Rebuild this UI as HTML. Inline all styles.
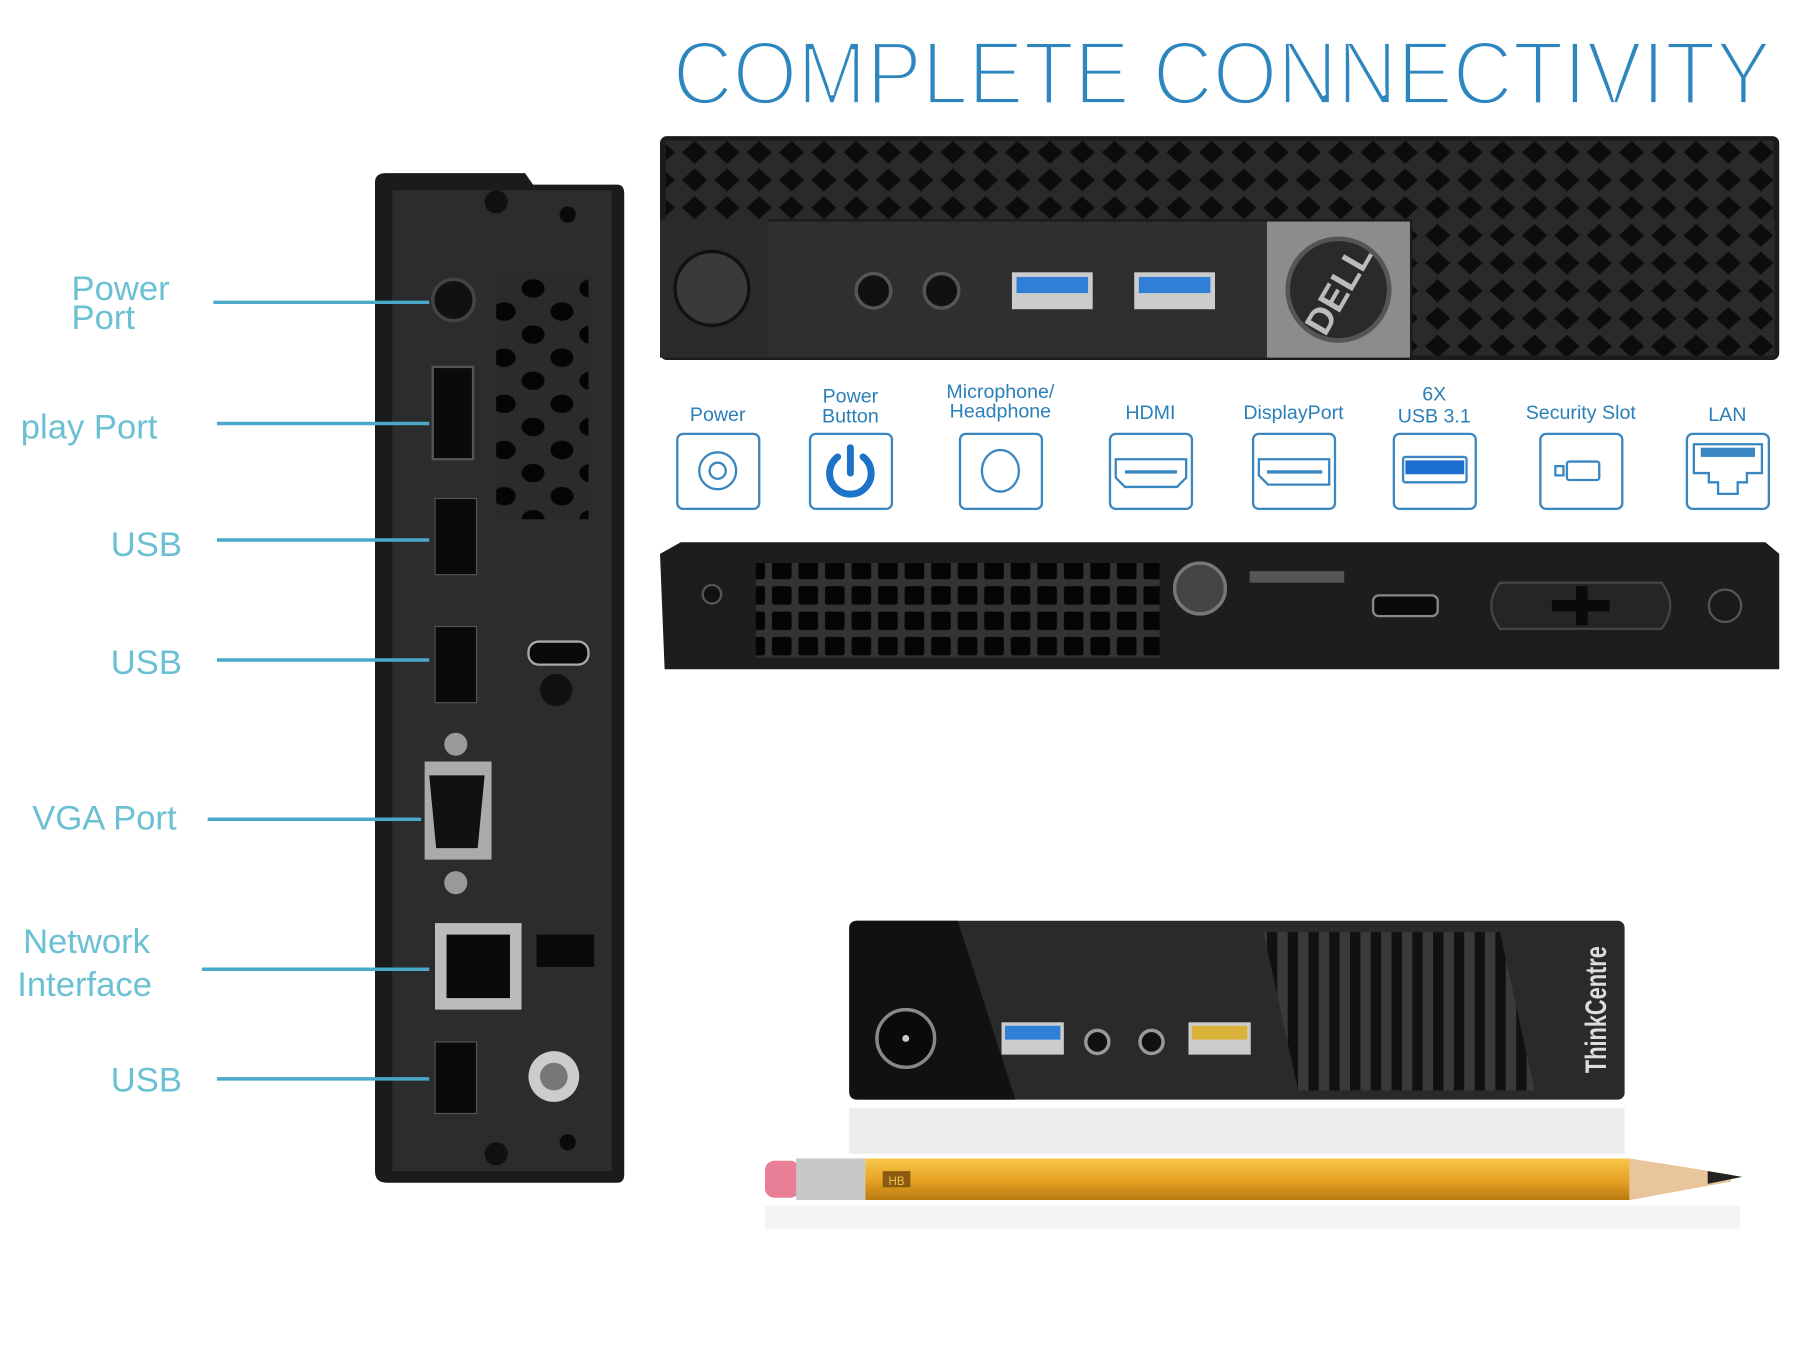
<!DOCTYPE html>
<html><head><meta charset="utf-8"><style>
html,body{margin:0;padding:0;background:#fff;}
svg{display:block;}
text{font-family:"Liberation Sans",sans-serif;}
</style></head><body>
<svg width="1800" height="1350" viewBox="0 0 1560 1170" xmlns="http://www.w3.org/2000/svg">
<defs>
<pattern id="dia" width="28" height="24" patternUnits="userSpaceOnUse">
<rect width="28" height="24" fill="#2a2a2a"/>
<path d="M14 2 L25 12 L14 22 L3 12 Z" fill="#0c0c0c"/>
</pattern>
<pattern id="vent" width="23" height="22" patternUnits="userSpaceOnUse">
<rect width="23" height="22" fill="#333"/>
<rect x="2" y="2" width="17" height="16" rx="2" fill="#050505"/>
</pattern>
<pattern id="hex" width="50" height="40" patternUnits="userSpaceOnUse">
<rect width="50" height="40" fill="#2a2c2c"/>
<ellipse cx="12" cy="10" rx="10" ry="8" fill="#050505"/>
<ellipse cx="37" cy="30" rx="10" ry="8" fill="#050505"/>
</pattern>
<pattern id="slat" width="18" height="10" patternUnits="userSpaceOnUse">
<rect width="18" height="10" fill="#3a3a3a"/>
<rect x="0" y="0" width="9" height="10" fill="#111"/>
</pattern>
<linearGradient id="pencil" x1="0" y1="0" x2="0" y2="1">
<stop offset="0" stop-color="#f6c74a"/><stop offset="0.5" stop-color="#e9a425"/><stop offset="1" stop-color="#b97a10"/>
</linearGradient>
</defs>

<!-- Title -->
<text x="583" y="90" font-size="78" fill="#2e86be" stroke="#fff" stroke-width="3.2" textLength="952" lengthAdjust="spacingAndGlyphs">COMPLETE CONNECTIVITY</text>

<!-- Dell front -->
<rect x="572" y="118" width="970" height="194" rx="6" fill="#1b1b1b"/>
<rect x="577" y="122" width="960" height="68" fill="url(#dia)"/>
<rect x="572" y="190" width="94" height="120" fill="#2b2b2b"/>
<circle cx="617" cy="250" r="32" fill="#3a3a3a" stroke="#111" stroke-width="3"/>
<rect x="666" y="192" width="432" height="118" fill="#2e2f30"/>
<circle cx="757" cy="252" r="15" fill="#111" stroke="#555" stroke-width="3"/>
<circle cx="816" cy="252" r="15" fill="#111" stroke="#555" stroke-width="3"/>
<rect x="877" y="236" width="70" height="32" fill="#ccc"/><rect x="881" y="240" width="62" height="14" fill="#2f7fd6"/>
<rect x="983" y="236" width="70" height="32" fill="#ccc"/><rect x="987" y="240" width="62" height="14" fill="#2f7fd6"/>
<rect x="1098" y="192" width="124" height="118" fill="#8a8c8e"/>
<circle cx="1160" cy="251" r="44" fill="#2a2a2a" stroke="#555" stroke-width="4"/>
<text x="1160" y="262" font-size="32" font-weight="bold" fill="#bbb" text-anchor="middle" transform="rotate(-60 1160 251)">DELL</text>
<rect x="1224" y="190" width="314" height="118" fill="url(#dia)"/>

<!-- Icons row -->
<g font-size="17" fill="#2a7fb8" text-anchor="middle">
<text x="622" y="365">Power</text>
<text x="737" y="349">Power</text><text x="737" y="366">Button</text>
<text x="867" y="345">Microphone/</text><text x="867" y="362">Headphone</text>
<text x="997" y="363">HDMI</text>
<text x="1121" y="363">DisplayPort</text>
<text x="1243" y="347">6X</text><text x="1243" y="366">USB 3.1</text>
<text x="1370" y="363">Security Slot</text>
<text x="1497" y="365">LAN</text>
</g>
<g fill="none" stroke="#3a86c0" stroke-width="2">
<rect x="587" y="376" width="71" height="65" rx="5"/>
<rect x="702" y="376" width="71" height="65" rx="5"/>
<rect x="832" y="376" width="71" height="65" rx="5"/>
<rect x="962" y="376" width="71" height="65" rx="5"/>
<rect x="1086" y="376" width="71" height="65" rx="5"/>
<rect x="1208" y="376" width="71" height="65" rx="5"/>
<rect x="1335" y="376" width="71" height="65" rx="5"/>
<rect x="1462" y="376" width="71" height="65" rx="5"/>
<circle cx="622" cy="408" r="16"/><circle cx="622" cy="408" r="7"/>
<ellipse cx="867" cy="408" rx="16" ry="18"/>
<path d="M967 398 H1028 V414 L1020 422 H975 L967 414 Z"/>
<path d="M1091 398 H1152 V420 H1099 L1091 412 Z"/>
<rect x="1216" y="396" width="55" height="22" rx="2"/>
<rect x="1358" y="400" width="28" height="16" rx="2"/><rect x="1348" y="404" width="7" height="8"/>
<path d="M1468 385 H1527 V410 H1514 V418 H1506 V428 H1489 V418 H1481 V410 H1468 Z"/>
</g>
<path d="M726 396 A18 18 0 1 0 748 396" fill="none" stroke="#1c73c8" stroke-width="6" stroke-linecap="round"/>
<line x1="737" y1="388" x2="737" y2="410" stroke="#1c73c8" stroke-width="6" stroke-linecap="round"/>
<rect x="1218" y="399" width="51" height="12" fill="#1c6fd0"/>
<line x1="1098" y1="409" x2="1146" y2="409" stroke="#3a86c0" stroke-width="3"/>
<line x1="975" y1="409" x2="1020" y2="409" stroke="#3a86c0" stroke-width="3"/>
<rect x="1474" y="388" width="47" height="8" fill="#3a86c0"/>

<!-- Dell back -->
<path d="M572 480 L590 470 H1530 L1542 480 V580 H576 Z" fill="#1d1d1d"/>
<rect x="655" y="488" width="350" height="82" fill="url(#vent)"/>
<circle cx="617" cy="515" r="8" fill="#111" stroke="#555" stroke-width="2"/>
<circle cx="1040" cy="510" r="22" fill="#444" stroke="#777" stroke-width="3"/>
<rect x="1083" y="495" width="82" height="10" fill="#555"/>
<rect x="1190" y="516" width="56" height="18" rx="5" fill="#0a0a0a" stroke="#888" stroke-width="2"/>
<path d="M1300 505 H1440 Q1455 525 1440 545 H1300 Q1285 525 1300 505 Z" fill="#252525" stroke="#444" stroke-width="2"/>
<path d="M1345 520 H1395 V530 H1345 Z M1366 508 H1376 V542 H1366 Z" fill="#0a0a0a"/>
<circle cx="1495" cy="525" r="14" fill="#1a1a1a" stroke="#555" stroke-width="2"/>

<!-- Left ThinkCentre back -->
<path d="M325 158 Q325 150 335 150 H455 L462 160 H535 Q541 160 541 168 V1018 Q541 1025 535 1025 H335 Q325 1025 325 1015 Z" fill="#1a1b1b"/>
<rect x="340" y="165" width="190" height="850" fill="#2a2c2d"/>
<rect x="430" y="240" width="80" height="210" fill="url(#hex)"/>
<circle cx="393" cy="260" r="18" fill="#111" stroke="#444" stroke-width="3"/>
<rect x="375" y="318" width="35" height="80" fill="#0a0a0a" stroke="#555" stroke-width="2"/>
<rect x="377" y="432" width="36" height="66" fill="#0a0a0a" stroke="#555"/>
<rect x="377" y="543" width="36" height="66" fill="#0a0a0a" stroke="#555"/>
<rect x="458" y="556" width="52" height="20" rx="9" fill="#0a0a0a" stroke="#aaa" stroke-width="2"/>
<circle cx="482" cy="598" r="14" fill="#111"/>
<path d="M368 660 H426 V745 H368 Z" fill="#aaa"/>
<path d="M372 672 H420 L414 735 H378 Z" fill="#111"/>
<circle cx="395" cy="645" r="10" fill="#999"/><circle cx="395" cy="765" r="10" fill="#999"/>
<rect x="377" y="800" width="75" height="75" fill="#bbb"/>
<rect x="387" y="810" width="55" height="55" fill="#0a0a0a"/>
<rect x="465" y="810" width="50" height="28" fill="#0a0a0a"/>
<rect x="377" y="903" width="36" height="62" fill="#0a0a0a" stroke="#555"/>
<circle cx="480" cy="933" r="22" fill="#ccc"/><circle cx="480" cy="933" r="12" fill="#777"/>
<circle cx="430" cy="175" r="10" fill="#111"/><circle cx="430" cy="1000" r="10" fill="#111"/>
<circle cx="492" cy="186" r="7" fill="#0a0a0a"/><circle cx="492" cy="990" r="7" fill="#0a0a0a"/>

<g stroke="#4aa8c8" stroke-width="3">
<line x1="185" y1="262" x2="372" y2="262"/>
<line x1="188" y1="367" x2="372" y2="367"/>
<line x1="188" y1="468" x2="372" y2="468"/>
<line x1="188" y1="572" x2="372" y2="572"/>
<line x1="180" y1="710" x2="365" y2="710"/>
<line x1="175" y1="840" x2="372" y2="840"/>
<line x1="188" y1="935" x2="372" y2="935"/>
</g>
<g font-size="30" fill="#6cc0d4">
<text x="62" y="260">Power</text><text x="62" y="285">Port</text>
<text x="18" y="380">play Port</text>
<text x="96" y="482">USB</text>
<text x="96" y="584">USB</text>
<text x="28" y="719">VGA Port</text>
<text x="20" y="826">Network</text><text x="15" y="863">Interface</text>
<text x="96" y="946">USB</text>
</g>

<!-- ThinkCentre tiny -->
<rect x="736" y="798" width="672" height="155" rx="6" fill="#2a2a2a"/>
<path d="M736 804 Q736 798 744 798 H830 L880 953 H744 Q736 953 736 945 Z" fill="#111"/>
<circle cx="785" cy="900" r="25" fill="#0a0a0a" stroke="#888" stroke-width="3"/>
<circle cx="785" cy="900" r="3" fill="#ccc"/>
<rect x="868" y="886" width="54" height="28" fill="#ccc"/><rect x="871" y="889" width="48" height="12" fill="#2f7fd6"/>
<circle cx="951" cy="903" r="10" fill="#111" stroke="#999" stroke-width="3"/>
<circle cx="998" cy="903" r="10" fill="#111" stroke="#999" stroke-width="3"/>
<rect x="1030" y="886" width="54" height="28" fill="#ccc"/><rect x="1033" y="889" width="48" height="12" fill="#d9b23a"/>
<path d="M1095 808 H1300 L1330 945 H1125 Z" fill="url(#slat)"/>
<text x="1392" y="930" font-size="26" font-weight="bold" fill="#ddd" transform="rotate(-90 1392 930)" textLength="110" lengthAdjust="spacingAndGlyphs">ThinkCentre</text>
<rect x="736" y="960" width="672" height="40" fill="#e8e8e8" opacity="0.8"/>

<!-- Pencil -->
<rect x="663" y="1006" width="30" height="32" rx="8" fill="#e87f96"/>
<rect x="690" y="1004" width="60" height="36" fill="#c8c8c8"/>
<path d="M750 1004 H1412 L1500 1018 L1500 1024 L1412 1040 H750 Z" fill="url(#pencil)"/>
<path d="M1412 1004 L1500 1018 L1500 1024 L1412 1040 Z" fill="#e8c59a"/>
<path d="M1480 1015 L1510 1020 L1480 1026 Z" fill="#222"/>
<rect x="765" y="1015" width="24" height="14" fill="#8a5a10"/>
<text x="777" y="1027" font-size="10" fill="#f1c04a" text-anchor="middle">HB</text>
<rect x="663" y="1045" width="845" height="20" fill="#eee" opacity="0.7"/>
</svg>
</body></html>
